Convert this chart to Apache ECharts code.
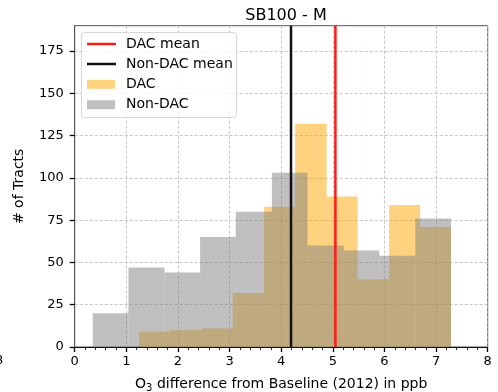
<!DOCTYPE html>
<html>
<head>
<meta charset="utf-8">
<script src="https://cdn.jsdelivr.net/npm/echarts@6/dist/echarts.min.js"></script>
<style>
  html, body { margin: 0; padding: 0; background: #fff; }
  #chart { width: 498px; height: 392px; }
</style>
</head>
<body>
<div id="chart"></div>
<script>
// Histogram bin edges and counts (ppb)
const dacEdges = [1.25, 1.85, 2.46, 3.06, 3.67, 4.27, 4.88, 5.48, 6.09, 6.69, 7.29];
const dacCounts = [9, 10, 11, 32, 83, 132, 89, 40, 84, 71];
const nonDacEdges = [0.35, 1.04, 1.74, 2.43, 3.12, 3.82, 4.51, 5.21, 5.90, 6.60, 7.29];
const nonDacCounts = [20, 47, 44, 65, 80, 103, 60, 57, 54, 76];

// Group means (ppb)
const dacMean = 5.05;
const nonDacMean = 4.19;

// Axis ticks
const xTicks = [0, 1, 2, 3, 4, 5, 6, 7, 8];
const yTicks = [0, 25, 50, 75, 100, 125, 150, 175];

const FONT = 'DejaVu Sans';

function binRows(edges, counts) {
  return counts.map((c, i) => [edges[i], edges[i + 1], c]);
}

function histItem(fill) {
  return function (params, api) {
    const p0 = api.coord([api.value(0), api.value(2)]);
    const p1 = api.coord([api.value(1), 0]);
    return {
      type: 'rect',
      shape: { x: p0[0], y: p0[1], width: p1[0] - p0[0], height: p1[1] - p0[1] },
      style: { fill: fill }
    };
  };
}

const chart = echarts.init(document.getElementById('chart'), null, { renderer: 'canvas' });

const legendX = 87, legendTextX = 126;
const legendRows = [
  { y: 44, text: 'DAC mean', kind: 'line', color: '#ff1a1a' },
  { y: 64, text: 'Non-DAC mean', kind: 'line', color: '#111' },
  { y: 84.3, text: 'DAC', kind: 'patch', color: 'rgba(255,165,0,0.5)' },
  { y: 104.7, text: 'Non-DAC', kind: 'patch', color: 'rgba(128,128,128,0.5)' }
];
const legendGraphics = [{
  type: 'rect',
  shape: { x: 81.5, y: 32.5, width: 155, height: 85, r: 3 },
  style: { fill: 'rgba(255,255,255,0.8)', stroke: '#d6d6d6', lineWidth: 1 },
  z: 100
}];
legendRows.forEach(r => {
  if (r.kind === 'line') {
    legendGraphics.push({
      type: 'line',
      shape: { x1: legendX, y1: r.y, x2: legendX + 29, y2: r.y },
      style: { stroke: r.color, lineWidth: 2.5 },
      z: 101
    });
  } else {
    legendGraphics.push({
      type: 'rect',
      shape: { x: legendX, y: r.y - 4.5, width: 28, height: 9 },
      style: { fill: r.color },
      z: 101
    });
  }
  legendGraphics.push({
    type: 'text',
    x: legendTextX, y: r.y,
    style: { text: r.text, font: '14px "' + FONT + '"', fill: '#000', verticalAlign: 'middle' },
    z: 101
  });
});

const option = {
  animation: false,
  backgroundColor: '#fff',
  title: {
    text: 'SB100 - M',
    left: 281, top: 3, textAlign: 'center',
    textStyle: { fontFamily: FONT, fontSize: 16, fontWeight: 'normal', color: '#000' }
  },
  grid: {
    left: 74.7, right: 10.3, top: 25.7, bottom: 45,
    outerBoundsMode: 'none', containLabel: false,
    show: true, borderColor: '#555', borderWidth: 1, backgroundColor: 'transparent'
  },
  xAxis: {
    type: 'value', min: 0, max: 8, interval: 1,
    name: '{n|O}{s|3}{n| difference from Baseline (2012) in ppb}',
    nameLocation: 'middle', nameGap: 28,
    nameTextStyle: {
      rich: {
        n: { fontFamily: FONT, fontSize: 14, color: '#000' },
        s: { fontFamily: FONT, fontSize: 10, color: '#000', verticalAlign: 'bottom', padding: [8, 0, 0, 0] }
      }
    },
    axisLine: { show: true, lineStyle: { color: '#111', width: 1 } },
    axisTick: { show: true, length: 5, lineStyle: { color: '#000', width: 1.3 } },
    minorTick: { show: true, splitNumber: 5, length: 3, lineStyle: { color: '#111', width: 0.9 } },
    axisLabel: { fontFamily: FONT, fontSize: 13, color: '#000', margin: 8,
      customValues: xTicks },
    splitLine: { show: true, lineStyle: { color: '#b8b8b8', type: [3, 2], width: 0.8 } }
  },
  yAxis: {
    type: 'value', min: 0, max: 190, interval: 25,
    name: '# of Tracts', nameLocation: 'middle', nameGap: 48, nameRotate: 90,
    nameTextStyle: { fontFamily: FONT, fontSize: 14, color: '#000' },
    axisLine: { show: true, lineStyle: { color: '#555', width: 1 } },
    axisTick: { show: true, length: 5, lineStyle: { color: '#000', width: 1.3 }, customValues: yTicks },
    axisLabel: { fontFamily: FONT, fontSize: 13, color: '#000', margin: 11, customValues: yTicks },
    splitLine: { show: true, lineStyle: { color: '#b8b8b8', type: [3, 2], width: 0.8 } }
  },
  series: [
    {
      name: 'DAC', type: 'custom', renderItem: histItem('rgba(255,165,0,0.5)'),
      data: binRows(dacEdges, dacCounts), encode: { x: [0, 1], y: 2 }, z: 2
    },
    {
      name: 'Non-DAC', type: 'custom', renderItem: histItem('rgba(128,128,128,0.5)'),
      data: binRows(nonDacEdges, nonDacCounts), encode: { x: [0, 1], y: 2 }, z: 3
    },
    {
      name: 'DAC mean', type: 'line', showSymbol: false, z: 5,
      data: [[dacMean, 0], [dacMean, 190]],
      lineStyle: { color: '#ff1a1a', width: 2.5 }
    },
    {
      name: 'Non-DAC mean', type: 'line', showSymbol: false, z: 5,
      data: [[nonDacMean, 0], [nonDacMean, 190]],
      lineStyle: { color: '#111', width: 2.5 }
    }
  ],
  graphic: legendGraphics.concat([{
    type: 'text', x: -5, y: 361,
    style: { text: '8', font: '13px "' + FONT + '"', fill: '#000', verticalAlign: 'middle' }
  }])
};

chart.setOption(option);
</script>
</body>
</html>
